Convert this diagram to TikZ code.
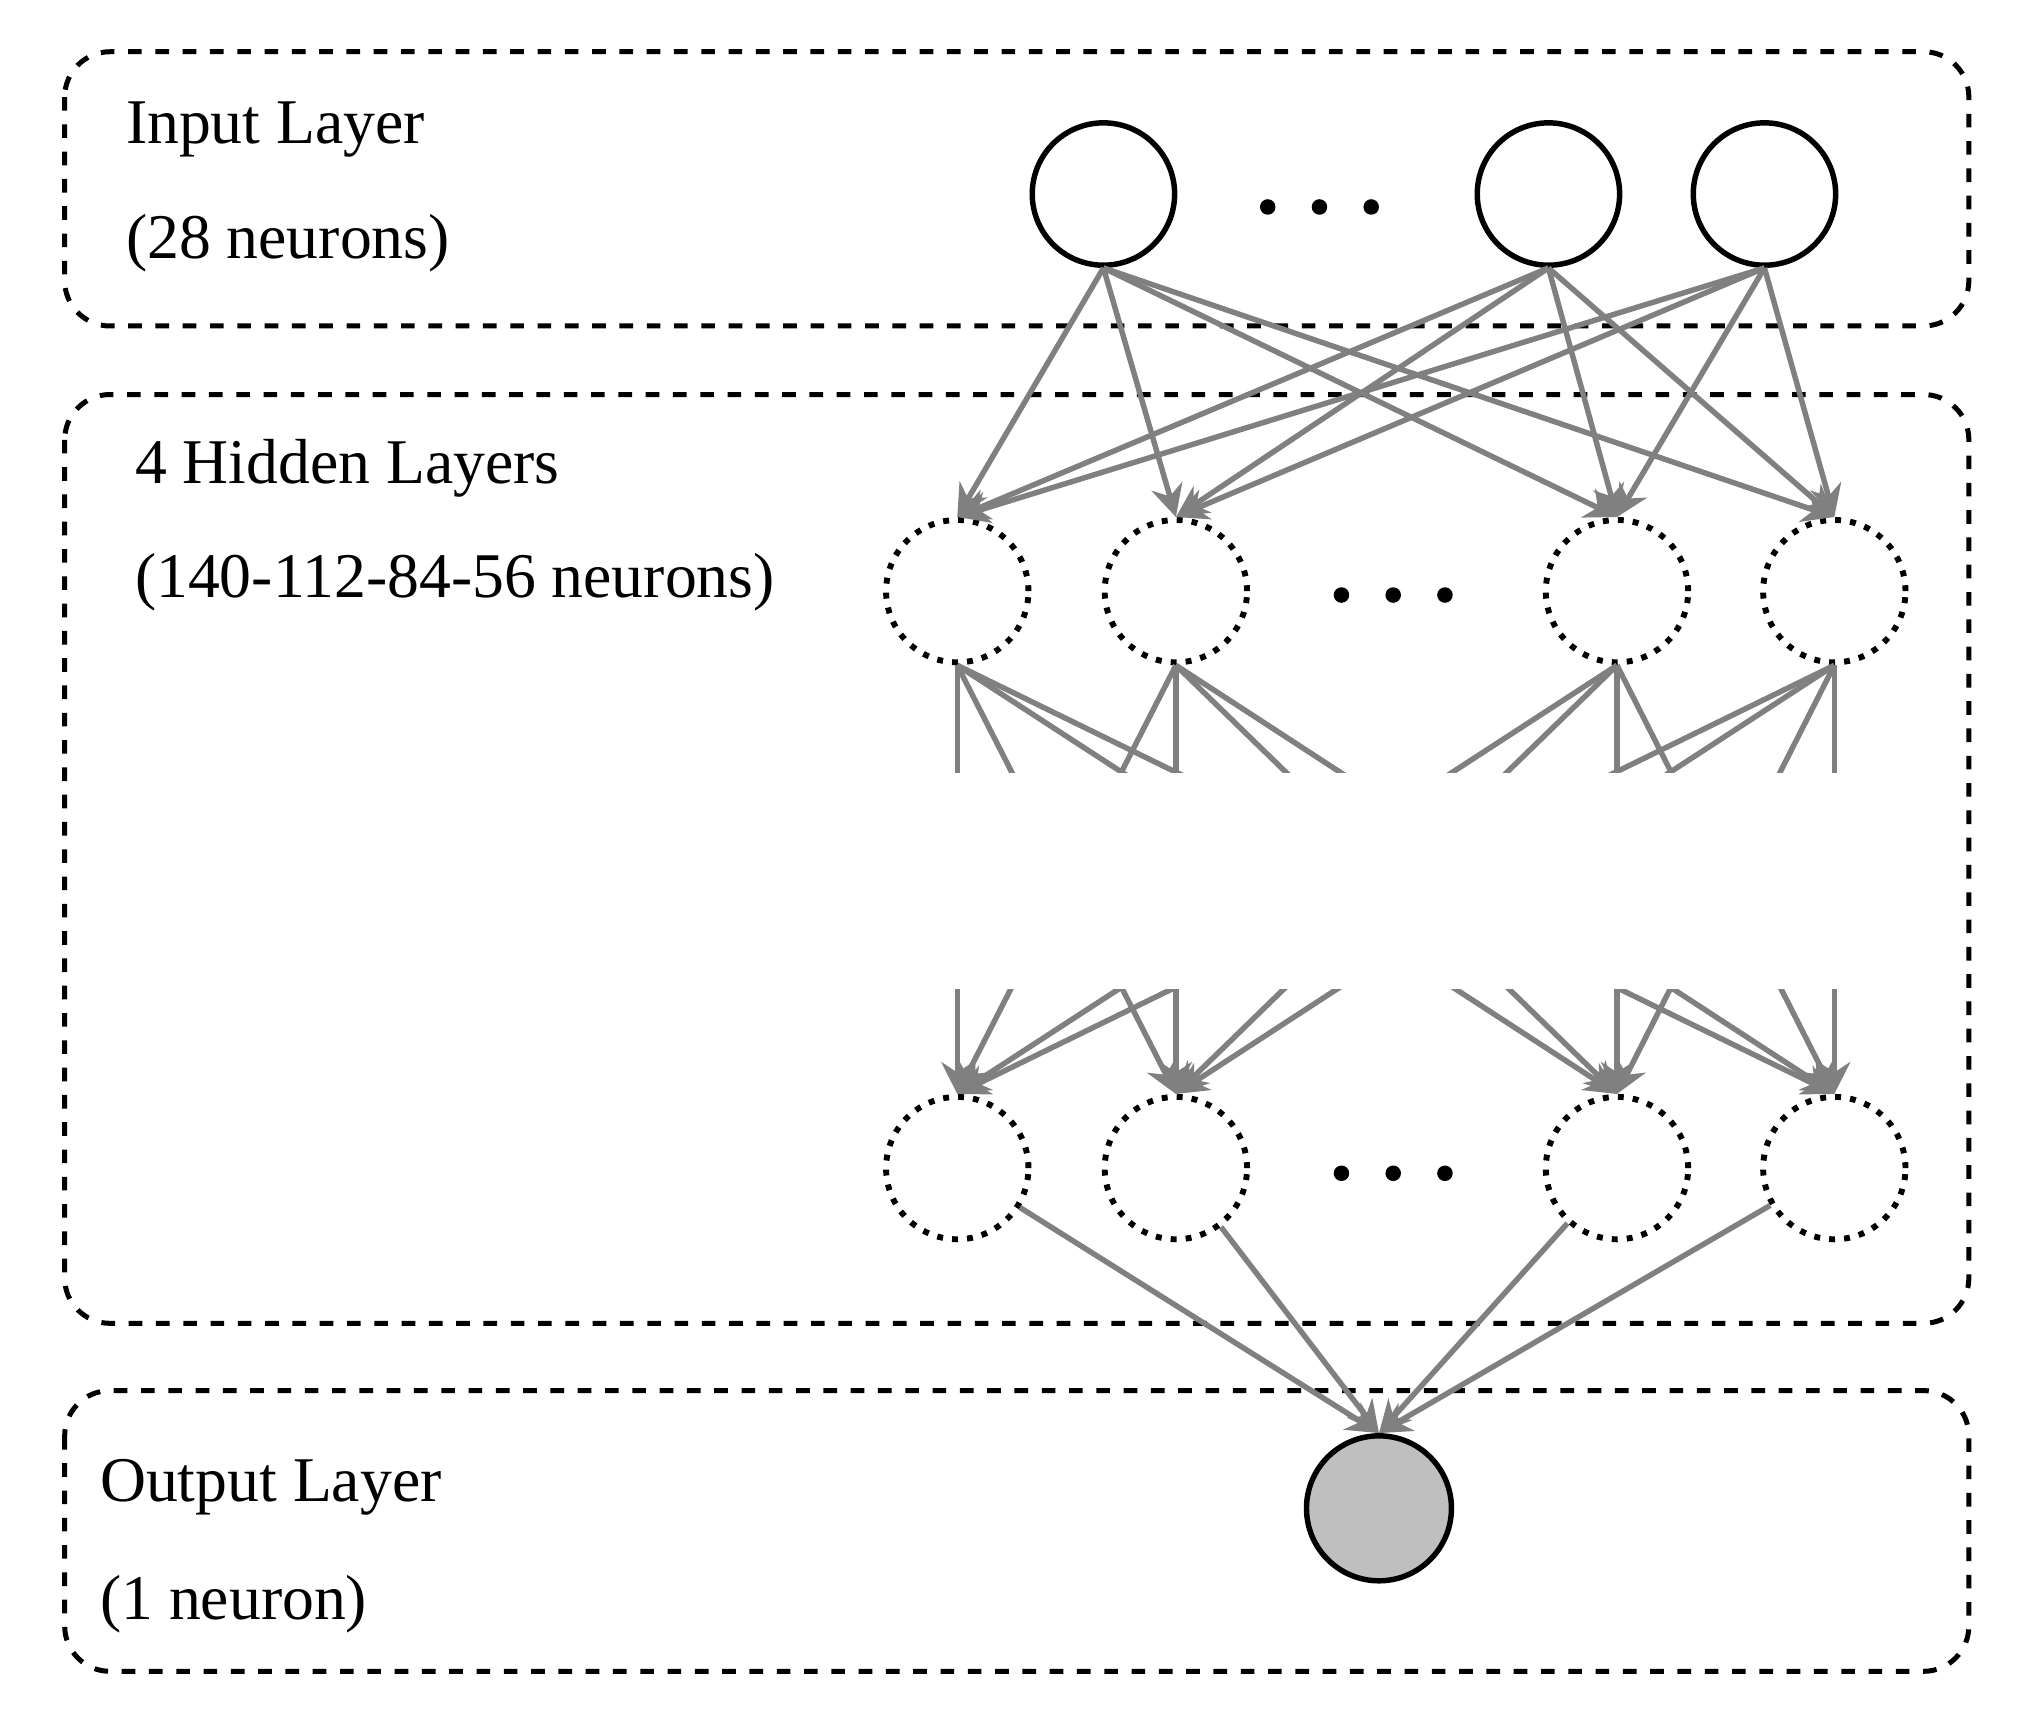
\documentclass[tikz,border=0pt]{standalone}
\usepackage{fontspec}
\setmainfont{Liberation Serif}
\usetikzlibrary{arrows.meta}
\begin{document}
\begin{tikzpicture}[x=0.01cm,y=-0.01cm,
  box/.style={draw,dashed,line width=1.1pt,rounded corners=0.35cm},
  inn/.style={circle,draw,line width=1.2pt,minimum size=1.1cm,inner sep=0},
  hid/.style={circle,draw,dotted,line width=1.3pt,minimum size=1.1cm,inner sep=0},
  outn/.style={circle,draw,line width=1.2pt,fill=gray!50,minimum size=1.12cm,inner sep=0},
  edge/.style={draw=gray,line width=1.2pt},
  arr/.style={edge,-{Stealth[length=7pt,width=7pt]}},
  lab/.style={anchor=west,font=\fontsize{14}{16}\selectfont},
  dot/.style={circle,fill,inner sep=0,minimum size=0.12cm}]
\useasboundingbox (0,0) rectangle (1560,1331);
\draw[box] (50,40) rectangle (1522,252);
\draw[box] (50,305) rectangle (1522,1023);
\draw[box] (50,1075) rectangle (1522,1292);
\node[lab] at (85,100) {Input Layer};
\node[lab] at (85,188) {(28 neurons)};
\node[lab] at (92,362) {4 Hidden Layers};
\node[lab] at (92,450) {(140-112-84-56 neurons)};
\node[lab] at (65,1150) {Output Layer};
\node[lab] at (65,1240) {(1 neuron)};
\node[inn] (i1) at (853,150) {};
\node[inn] (i2) at (1197,150) {};
\node[inn] (i3) at (1364,150) {};
\foreach \x in {980,1020,1060}{\node[dot] at (\x,160) {};}
\foreach \x/\n in {740/1,909/2,1250/3,1418/4}{
  \node[hid] (t\n) at (\x,457) {};
  \node[hid] (b\n) at (\x,903) {};
}
\foreach \x in {1037,1077,1117}{\node[dot] at (\x,460) {}; \node[dot] at (\x,907) {};}
\node[outn] (o) at (1066,1166) {};
\foreach \i in {1,2,3}\foreach \h in {1,2,3,4}{
  \draw[arr] (i\i.south) -- (t\h.north);}
\begin{scope}
\clip (600,500) rectangle (1500,597);
\foreach \a in {1,2,3,4}\foreach \h in {1,2,3,4}{
  \draw[edge] (t\a.south) -- (b\h.north);}
\end{scope}
\begin{scope}
\clip (600,765) rectangle (1500,860);
\foreach \a in {1,2,3,4}\foreach \h in {1,2,3,4}{
  \draw[arr] (t\a.south) -- (b\h.north);}
\end{scope}
\foreach \h in {1,2,3,4}{\draw[arr] (b\h) -- (o.north);}
\end{tikzpicture}
\end{document}
